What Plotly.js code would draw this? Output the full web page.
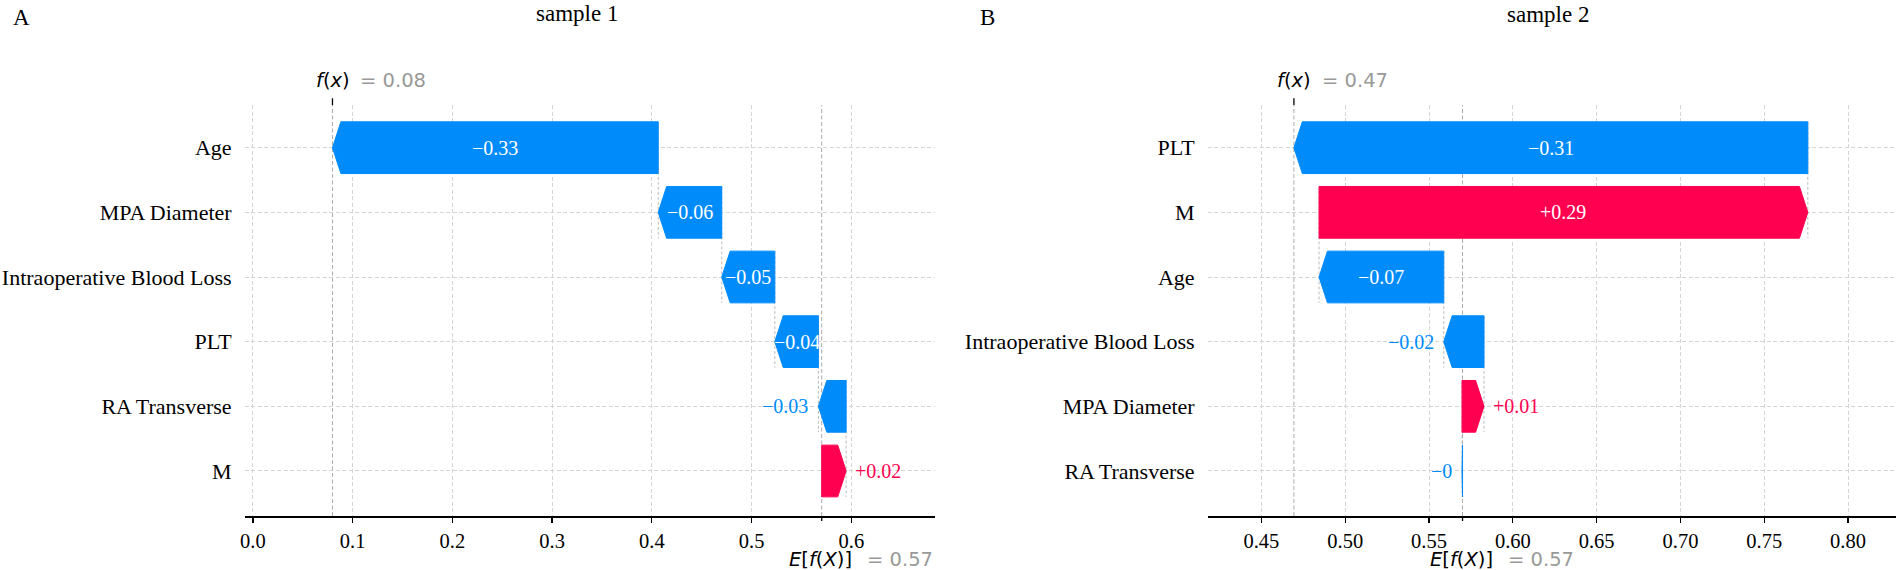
<!DOCTYPE html>
<html><head><meta charset="utf-8">
<script src="https://cdn.plot.ly/plotly-3.0.1.min.js"></script>
<style>html,body{margin:0;padding:0;background:#fff}#chart{width:1900px;height:570px}</style>
</head><body><div id="chart"></div>
<script>
// ---- data ----
const featuresA = ["Age", "MPA Diameter", "Intraoperative Blood Loss", "PLT", "RA Transverse", "M"];
const shapA = [-0.3266, -0.0637, -0.0532, -0.0437, -0.0278, 0.0245];
const baseA = 0.5703;
const titleA = "sample 1";
const letterA = "A";
const ticksA = [0.0, 0.1, 0.2, 0.3, 0.4, 0.5, 0.6];
const tickTextA = ["0.0", "0.1", "0.2", "0.3", "0.4", "0.5", "0.6"];

const featuresB = ["PLT", "M", "Age", "Intraoperative Blood Loss", "MPA Diameter", "RA Transverse"];
const shapB = [-0.3066, 0.2916, -0.0744, -0.0240, 0.0131, -0.0003];
const baseB = 0.5700;
const titleB = "sample 2";
const letterB = "B";
const ticksB = [0.45, 0.50, 0.55, 0.60, 0.65, 0.70, 0.75, 0.80];
const tickTextB = ["0.45", "0.50", "0.55", "0.60", "0.65", "0.70", "0.75", "0.80"];

// ---- style / layout ----
const W = 1900, H = 570;
const BLUE = '#008bfb', RED = '#ff0051';
const SERIF = '"Liberation Serif","Times New Roman",serif';
const SANS = '"DejaVu Sans",sans-serif';
const GRID = '#d4d4d4';
const DASH = '4px,2.5px';
const yRange = [-0.696, 5.66];
const plotTop = 105, plotBot = 516;
const yDom = [(H - plotBot) / H, (H - plotTop) / H];
const HALF = 0.4, HEAD_PX = 8.4;

const panels = [
  {features: featuresA, values: shapA, base: baseA, title: titleA, letter: letterA,
   ticks: ticksA, tickText: tickTextA, xr: [-0.0083, 0.6839], px: [244.6, 935],
   xa: 'x', ya: 'y', xk: 'xaxis', yk: 'yaxis', titleX: 576.5, titleY: 14, letterX: 21},
  {features: featuresB, values: shapB, base: baseB, title: titleB, letter: letterB,
   ticks: ticksB, tickText: tickTextB, xr: [0.4179, 0.8286], px: [1207.6, 1896],
   xa: 'x2', ya: 'y2', xk: 'xaxis2', yk: 'yaxis2', titleX: 1548, titleY: 15, letterX: 987.6}
];

function fmt(v) {
  const s = Math.abs(v).toFixed(2).replace(/\.?0+$/, '');
  return (v < 0 ? '\u2212' : '+') + s;
}

const traces = [];
const annotations = [];
const shapes = [];
const layout = {
  width: W, height: H, margin: {l: 0, r: 0, t: 0, b: 0},
  paper_bgcolor: '#fff', plot_bgcolor: '#fff', showlegend: false,
  font: {family: SERIF, color: '#000'}
};

panels.forEach(p => {
  const n = p.features.length;
  const pxPerUnit = (p.px[1] - p.px[0]) / (p.xr[1] - p.xr[0]);
  const head = HEAD_PX / pxPerUnit;
  const rows = p.features.map((f, i) => n - 1 - i);
  const fx = p.base + p.values.reduce((a, b) => a + b, 0);

  // full-height lines at E[f(X)] and f(x)
  [p.base, fx].forEach(xv => {
    traces.push({type: 'scatter', mode: 'lines', x: [xv, xv], y: [yRange[0], yRange[1]],
      xaxis: p.xa, yaxis: p.ya, line: {color: '#ababab', width: 1, dash: DASH}, hoverinfo: 'skip'});
  });

  // cumulative positions from bottom upward
  let pos = p.base;
  const bars = [];
  for (let i = n - 1; i >= 0; i--) {
    const v = p.values[i];
    const start = pos, end = pos + v;
    pos = end;
    bars.push({i, v, start, end, row: rows[i]});
  }
  // connectors
  bars.forEach(b => {
    if (b.row === 0) return;
    traces.push({type: 'scatter', mode: 'lines', x: [b.start, b.start],
      y: [b.row + HALF, Math.max(b.row - 1 - HALF, yRange[0])],
      xaxis: p.xa, yaxis: p.ya, line: {color: '#bbbbbb', width: 1, dash: '3px,2px'}, hoverinfo: 'skip'});
  });
  // bars
  bars.forEach(b => {
    const col = b.v < 0 ? BLUE : RED;
    const h = Math.min(head, Math.abs(b.v));
    const tipBase = b.v < 0 ? b.end + h : b.end - h;
    const xs = [b.start, tipBase, b.end, tipBase, b.start, b.start];
    const ys = [b.row - HALF, b.row - HALF, b.row, b.row + HALF, b.row + HALF, b.row - HALF];
    traces.push({type: 'scatter', mode: 'lines', x: xs, y: ys, fill: 'toself', fillcolor: col,
      xaxis: p.xa, yaxis: p.ya, line: {color: col, width: 1}, hoverinfo: 'skip'});
    const wpx = Math.abs(b.v) * pxPerUnit;
    if (wpx > 42) {
      annotations.push({xref: p.xa, yref: p.ya, x: (b.start + b.end) / 2, y: b.row, text: fmt(b.v),
        showarrow: false, xanchor: 'center', yanchor: 'middle', font: {family: SERIF, size: 20, color: '#fff'}});
    } else {
      annotations.push({xref: p.xa, yref: p.ya, x: b.end, y: b.row, text: fmt(b.v),
        showarrow: false, xanchor: b.v < 0 ? 'right' : 'left', xshift: b.v < 0 ? -8 : 7, yanchor: 'middle',
        font: {family: SERIF, size: 20, color: col}});
    }
  });

  // axes
  layout[p.xk] = {
    domain: [p.px[0] / W, p.px[1] / W], range: p.xr, anchor: p.ya,
    tickmode: 'array', tickvals: p.ticks, ticktext: p.tickText,
    ticks: 'outside', ticklen: 5, tickwidth: 1.3, tickcolor: '#000',
    showline: true, linecolor: '#000', linewidth: 2,
    showgrid: true, gridcolor: GRID, gridwidth: 1, griddash: DASH, zeroline: false,
    tickfont: {family: SERIF, size: 20.5, color: '#000'}, fixedrange: true
  };
  layout[p.yk] = {
    domain: yDom, range: yRange, anchor: p.xa,
    tickmode: 'array', tickvals: rows, ticktext: p.features,
    ticks: '', showline: false, zeroline: false,
    showgrid: true, gridcolor: GRID, gridwidth: 1, griddash: DASH,
    ticklabelstandoff: 12,
    tickfont: {family: SERIF, size: 22, color: '#000'}, fixedrange: true
  };

  // f(x) tick and E tick
  shapes.push({type: 'line', xref: p.xa, yref: 'paper', x0: fx, x1: fx,
    y0: (H - plotTop) / H, y1: (H - 98.3) / H, line: {color: '#000', width: 1.3}});
  shapes.push({type: 'line', xref: p.xa, yref: 'paper', x0: p.base, x1: p.base,
    y0: (H - plotBot) / H, y1: (H - plotBot - 5) / H, line: {color: '#000', width: 1.3}});

  // f(x) label
  annotations.push({xref: p.xa, yref: 'paper', x: fx, y: (H - 80) / H, xshift: 0.5,
    text: '<i>f</i>(<i>x</i>)', showarrow: false, xanchor: 'center', yanchor: 'middle',
    font: {family: SANS, size: 19.5, color: '#000'}});
  annotations.push({xref: p.xa, yref: 'paper', x: fx, y: (H - 80) / H, xshift: 26,
    text: '= ' + fx.toFixed(2), showarrow: false, xanchor: 'left', yanchor: 'middle',
    font: {family: SANS, size: 19.5, color: '#999999'}});
  // E[f(X)] label
  annotations.push({xref: p.xa, yref: 'paper', x: p.base, y: (H - 559) / H, xshift: 32,
    text: '<i>E</i>[<i>f</i>(<i>X</i>)]', showarrow: false, xanchor: 'right', yanchor: 'middle',
    font: {family: SANS, size: 19.5, color: '#000'}});
  annotations.push({xref: p.xa, yref: 'paper', x: p.base, y: (H - 559) / H, xshift: 43,
    text: '= ' + p.base.toFixed(2), showarrow: false, xanchor: 'left', yanchor: 'middle',
    font: {family: SANS, size: 19.5, color: '#999999'}});

  // titles
  annotations.push({xref: 'paper', yref: 'paper', x: p.titleX / W, y: (H - p.titleY) / H,
    text: p.title, showarrow: false, xanchor: 'center', yanchor: 'middle',
    font: {family: SERIF, size: 23, color: '#000'}});
  annotations.push({xref: 'paper', yref: 'paper', x: p.letterX / W, y: (H - 18) / H,
    text: p.letter, showarrow: false, xanchor: 'center', yanchor: 'middle',
    font: {family: SERIF, size: 23, color: '#000'}});
});

layout.annotations = annotations;
layout.shapes = shapes;
Plotly.newPlot('chart', traces, layout, {staticPlot: true, displayModeBar: false});
</script>
</body></html>
